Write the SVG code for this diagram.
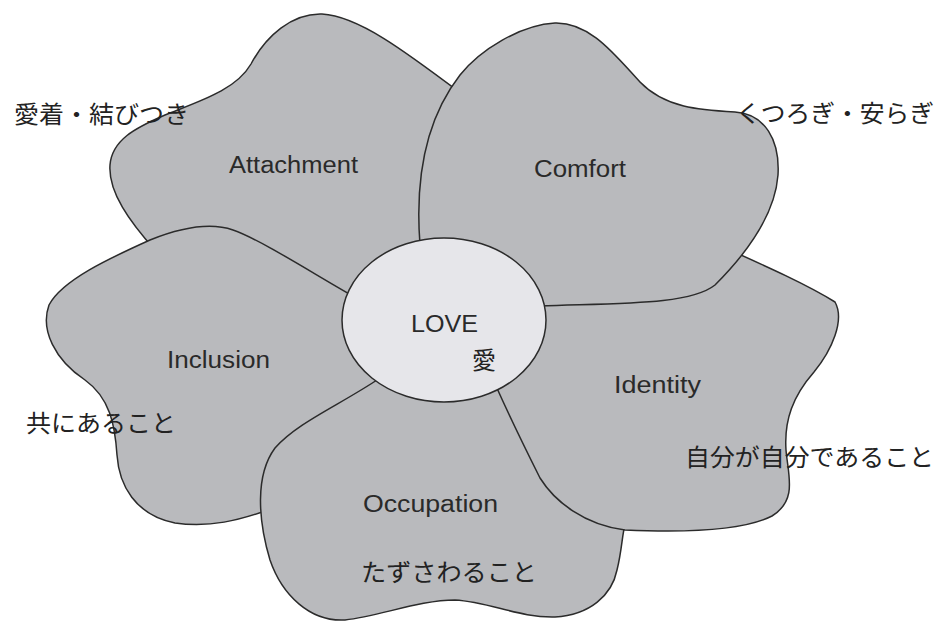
<svg xmlns="http://www.w3.org/2000/svg" width="935" height="623" viewBox="0 0 935 623">
  <style>
    .petal { fill: #b9babd; stroke: #2b2b2b; stroke-width: 1.5; stroke-linejoin: round; }
    .core { fill: #e6e6ea; stroke: #2b2b2b; stroke-width: 1.5; }
    .en { font-family: "Liberation Sans", Arial, sans-serif; font-size: 23px; fill: #2a2a2a; }
    .ja { font-family: "Noto Sans CJK JP", "Noto Sans CJK SC", sans-serif; font-size: 24px; fill: #222; }
  </style>
  <rect width="935" height="623" fill="#ffffff"/>

  <!-- petals are stacked so each one tucks under its neighbour -->
  <g id="attachment">
    <path class="petal" d="M 155 250 C 130 222, 108 192, 110 165 C 112 140, 135 128, 165 115 C 200 101, 236 90, 251 64 C 266 36, 292 13, 322 14 C 360 16, 410 55, 470 100 L 460 250 L 380 330 L 260 275 Z"/>
    <text class="en" x="229" y="173" textLength="129" lengthAdjust="spacingAndGlyphs">Attachment</text>
  </g>

  <g id="inclusion">
    <path class="petal" d="M 360 300 C 320 278, 262 240, 233 230 C 210 222, 180 228, 150 240 C 110 258, 62 280, 49 305 C 40 330, 55 360, 85 380 C 110 398, 115 425, 117 455 C 119 485, 135 515, 175 523 C 210 528, 240 520, 268 510 L 320 460 L 390 375 Z"/>
    <text class="en" x="167" y="368" textLength="103" lengthAdjust="spacingAndGlyphs">Inclusion</text>
  </g>

  <g id="occupation">
    <path class="petal" d="M 490 375 L 380 378 C 340 405, 298 422, 275 448 C 255 475, 258 520, 270 560 C 282 595, 310 622, 345 620 C 380 616, 420 600, 455 600 C 490 602, 520 618, 555 617 C 590 615, 612 595, 617 570 C 622 550, 622 535, 625 525 L 560 470 Z"/>
    <text class="en" x="363" y="512" textLength="135" lengthAdjust="spacingAndGlyphs">Occupation</text>
  </g>

  <g id="identity">
    <path class="petal" d="M 470 330 L 520 290 L 600 285 L 690 232 C 740 255, 800 280, 835 302 C 845 320, 832 350, 814 372 C 793 396, 784 420, 786 450 C 788 475, 798 500, 772 516 C 745 530, 690 533, 625 530 C 585 525, 555 502, 540 478 C 526 450, 512 422, 496 386 Z"/>
    <text class="en" x="614" y="393" textLength="87" lengthAdjust="spacingAndGlyphs">Identity</text>
  </g>

  <g id="comfort">
    <path class="petal" d="M 420 245 C 415 180, 425 120, 460 75 C 480 50, 520 25, 555 23 C 590 22, 615 55, 640 82 C 665 108, 700 110, 735 112 C 765 114, 780 140, 778 175 C 775 215, 745 255, 715 285 C 690 305, 620 303, 540 306 L 470 320 Z"/>
    <text class="en" x="534" y="177" textLength="92" lengthAdjust="spacingAndGlyphs">Comfort</text>
  </g>

  <g id="love">
    <ellipse class="core" cx="444" cy="320" rx="102" ry="82"/>
    <text class="en" x="411" y="332" textLength="67" lengthAdjust="spacingAndGlyphs">LOVE</text>
    <text class="ja" x="472" y="369">愛</text>
  </g>

  <!-- Japanese captions beside each petal -->
  <g id="captions">
    <text class="ja" x="14" y="123" textLength="175" lengthAdjust="spacingAndGlyphs">愛着・結びつき</text>
    <text class="ja" x="736" y="122" textLength="198" lengthAdjust="spacingAndGlyphs">くつろぎ・安らぎ</text>
    <text class="ja" x="26" y="432" textLength="150" lengthAdjust="spacingAndGlyphs">共にあること</text>
    <text class="ja" x="685" y="466" textLength="249" lengthAdjust="spacingAndGlyphs">自分が自分であること</text>
    <text class="ja" x="361" y="581" textLength="176" lengthAdjust="spacingAndGlyphs">たずさわること</text>
  </g>

  <g id="connectors"/>
</svg>
